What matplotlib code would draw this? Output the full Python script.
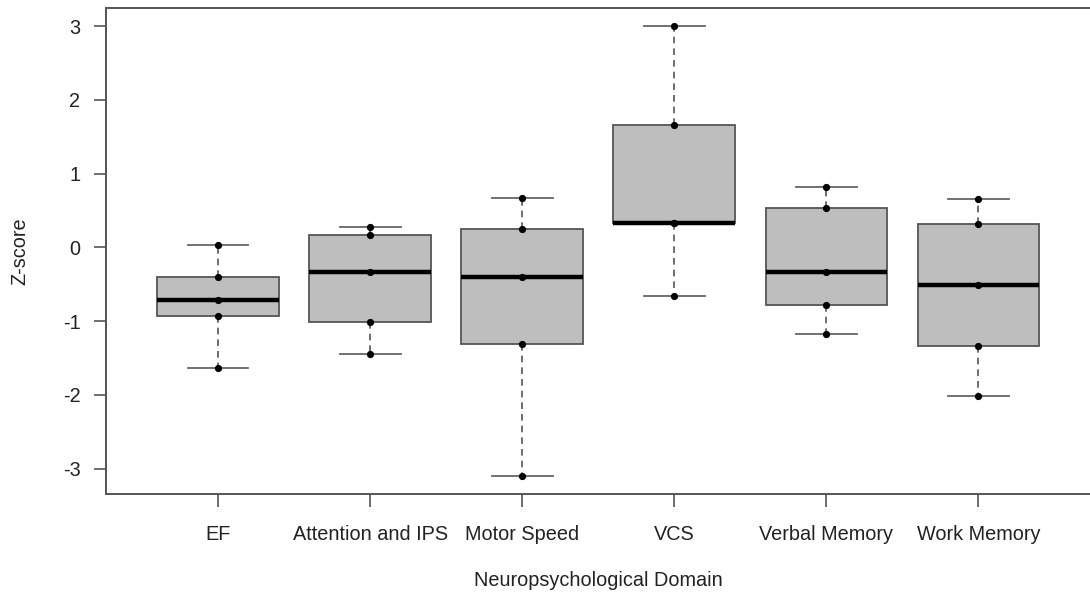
import matplotlib
matplotlib.use("Agg")
import matplotlib.pyplot as plt

plt.rcParams['font.family'] = ['Liberation Sans', 'DejaVu Sans']

categories = ["EF", "Attention and IPS", "Motor Speed", "VCS", "Verbal Memory", "Work Memory"]
ef = [0.03, -0.40, -0.71, -0.93, -1.64]
attention = [0.27, 0.17, -0.34, -1.01, -1.45]
motor = [0.67, 0.25, -0.40, -1.31, -3.10]
vcs = [3.00, 1.66, 0.33, 0.33, -0.66]
verbal = [0.82, 0.53, -0.34, -0.78, -1.17]
work = [0.65, 0.32, -0.51, -1.34, -2.02]
series = [ef, attention, motor, vcs, verbal, work]
yticks = [-3, -2, -1, 0, 1, 2, 3]

fig = plt.figure(figsize=(10.9, 5.98), dpi=100)
ax = fig.add_axes([105.5 / 1090, 1 - 494 / 598, (1091 - 105.5) / 1090, (494 - 8) / 598])

positions = list(range(1, len(categories) + 1))
edge = '#555555'
ax.boxplot(series, positions=positions, widths=0.8, whis=(0, 100), patch_artist=True,
           showfliers=False,
           boxprops=dict(facecolor='#bebebe', edgecolor=edge, linewidth=1.3),
           medianprops=dict(color='black', linewidth=3.2),
           whiskerprops=dict(color=edge, linewidth=1.2, linestyle=(0, (4, 3))),
           capprops=dict(color='#666666', linewidth=1.3),
           capwidths=0.4)

for p, vals in zip(positions, series):
    ax.plot([p] * len(vals), vals, 'o', color='black', markersize=4.2, zorder=5)

ax.set_xlim(0.26, 6.74)
ax.set_ylim(-3.344, 3.244)
ax.set_xticks(positions)
ax.set_xticklabels(categories, fontsize=14.3, color='#222222')
ax.set_yticks(yticks)
ax.set_yticklabels([str(t) for t in yticks], fontsize=14.3, color='#222222')
ax.tick_params(axis='both', length=9, width=1.2, color=edge)
ax.tick_params(axis='x', pad=13)
ax.tick_params(axis='y', pad=9)
for s in ax.spines.values():
    s.set_color(edge)
    s.set_linewidth(1.4)
ax.set_xlabel("Neuropsychological Domain", fontsize=14.3, color='#222222', labelpad=20)
ax.set_ylabel("Z-score", fontsize=14.3, color='#222222', labelpad=24)

fig.savefig("out.png", dpi=100)
